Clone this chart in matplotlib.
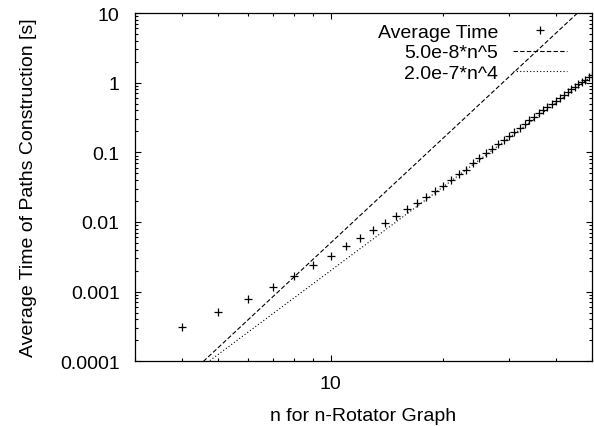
# average time of paths construction vs n, log-log, with two power-law guides
import matplotlib.pyplot as plt
import numpy as np
from matplotlib.ticker import FixedLocator, FixedFormatter, LogLocator, NullFormatter

plt.rcParams['font.family'] = ['Liberation Sans', 'DejaVu Sans']

# measured average times (s) for n = 4..50
n = np.arange(4, 51)
avg_time = np.array([
    3.1e-4, 5.1e-4, 7.8e-4, 1.17e-3, 1.69e-3, 2.4e-3, 3.3e-3,
    4.5e-3, 5.9e-3, 7.7e-3, 9.6e-3, 0.0121, 0.0153, 0.0186, 0.0230,
    0.0280, 0.0333, 0.0406, 0.0486, 0.0566, 0.070, 0.083, 0.097,
    0.113, 0.131, 0.151, 0.174, 0.198, 0.226, 0.256, 0.289, 0.325,
    0.364, 0.406, 0.452, 0.501, 0.553, 0.609, 0.669, 0.733, 0.801,
    0.873, 0.950, 1.03, 1.11, 1.20, 1.30,
])

# guide curves: coefficient, exponent, legend label
fits = [(5.0e-8, 5, '5.0e-8*n^5', (0, (4, 2))),
        (2.0e-7, 4, '2.0e-7*n^4', (0, (1, 2)))]

y_ticks = [1e-4, 1e-3, 1e-2, 1e-1, 1, 10]
y_labels = ['0.0001', '0.001', '0.01', '0.1', '1', '10']

fig = plt.figure(figsize=(5.94, 4.27), dpi=100)
ax = fig.add_axes([0.2273, 0.1515, 0.7694, 0.8157])

ax.plot(n, avg_time, '+', color='black', markersize=5.5, markeredgewidth=0.9,
        label='Average Time')
xs = np.linspace(3, 50, 300)
for c, p, lab, ls in fits:
    ax.plot(xs, c * xs ** p, color='black', linewidth=0.8, linestyle=ls, label=lab)

ax.set_xscale('log')
ax.set_yscale('log')
ax.set_xlim(3, 50)
ax.set_ylim(1e-4, 10)

ax.xaxis.set_major_locator(FixedLocator([10]))
ax.xaxis.set_major_formatter(FixedFormatter(['10']))
ax.xaxis.set_minor_locator(LogLocator(base=10, subs=np.arange(2, 10)))
ax.xaxis.set_minor_formatter(NullFormatter())
ax.yaxis.set_major_locator(FixedLocator(y_ticks))
ax.yaxis.set_major_formatter(FixedFormatter(y_labels))
ax.yaxis.set_minor_locator(LogLocator(base=10, subs=np.arange(2, 10)))
ax.yaxis.set_minor_formatter(NullFormatter())

ax.tick_params(which='both', direction='in', top=True, right=True, width=0.8)
ax.tick_params(which='major', length=4)
ax.tick_params(which='minor', length=2)
ax.tick_params(axis='y', which='major', labelsize=14, pad=11)
ax.tick_params(axis='x', which='major', labelsize=14, pad=10)
for s in ax.spines.values():
    s.set_linewidth(0.9)

ax.set_xlabel('n for n-Rotator Graph', fontsize=14)
ax.set_ylabel('Average Time of Paths Construction [s]', fontsize=14)
ax.xaxis.set_label_coords(0.5, -0.13)
ax.yaxis.set_label_coords(-0.215, 0.5)

ax.legend(loc='upper right', bbox_to_anchor=(0.959, 0.988), frameon=False,
          markerfirst=False, fontsize=14, handlelength=2.8, handletextpad=0.75,
          labelspacing=0.16, numpoints=1, borderaxespad=0, borderpad=0.3)

plt.savefig('out.png', dpi=100)
